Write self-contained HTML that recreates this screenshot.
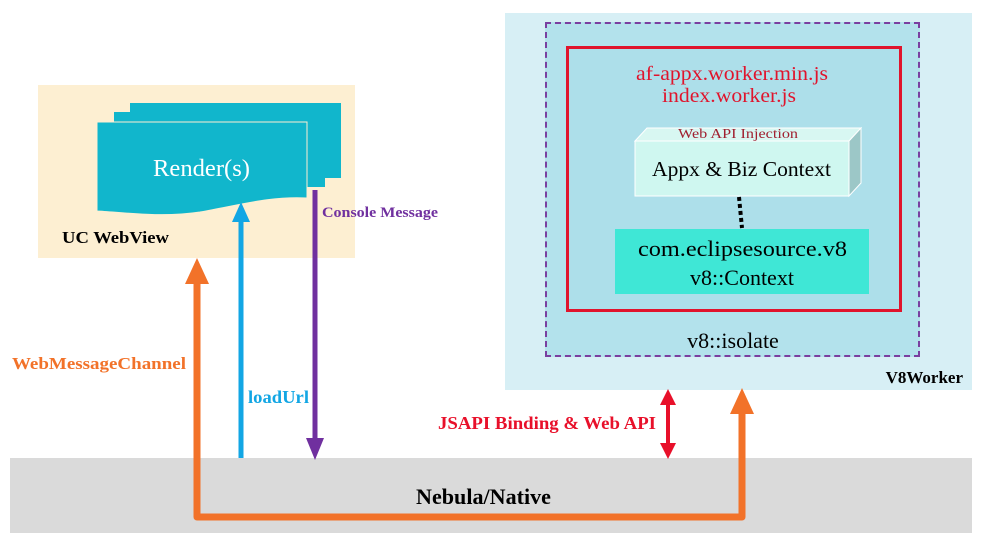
<!DOCTYPE html>
<html><head><meta charset="utf-8"><style>
body{margin:0;width:983px;height:552px;background:#fff;position:relative;overflow:hidden;font-family:"Liberation Serif",serif}
.a{position:absolute}
</style></head><body>
<div class="a" style="left:38px;top:85px;width:317px;height:173px;background:#fdefd2"></div>
<div class="a" style="left:505px;top:13px;width:467px;height:377px;background:#d7eff5"></div>
<div class="a" style="left:545px;top:22px;width:371px;height:331px;border:2px dashed #7a3fa0;background:#b3e2ec"></div>
<div class="a" style="left:566px;top:46px;width:330px;height:260px;border:3px solid #e0142c;background:#addfea"></div>
<div class="a" style="left:10px;top:458px;width:962px;height:75px;background:#dadada"></div>
<svg class="a" style="left:0;top:0" width="983" height="552" font-family="Liberation Serif">
 <rect x="130" y="103" width="211" height="75" fill="#11b6cc"/>
 <rect x="114" y="112" width="211" height="75" fill="#11b6cc"/>
 <path d="M97 122 H307 V198 C270 196 240 205 200 212 C160 218 120 212 97 211 Z" fill="#11b6cc" stroke="#fdefd2" stroke-width="1"/>
 <text x="153" y="176" font-size="24" fill="#fff" textLength="97" lengthAdjust="spacingAndGlyphs">Render(s)</text>
 <text x="62" y="243" font-size="17" font-weight="bold" textLength="107" lengthAdjust="spacingAndGlyphs">UC WebView</text>
 <polyline points="197,282 197,517 742,517 742,412" fill="none" stroke="#f27229" stroke-width="7" stroke-linejoin="round"/>
 <polygon points="197,258 185,284 209,284" fill="#f27229"/>
 <polygon points="742,388 730,414 754,414" fill="#f27229"/>
 <line x1="241" y1="458" x2="241" y2="220" stroke="#12a6e4" stroke-width="5"/>
 <polygon points="241,202 232,222 250,222" fill="#12a6e4"/>
 <line x1="315" y1="190" x2="315" y2="440" stroke="#70309f" stroke-width="5"/>
 <polygon points="315,460 306,438 324,438" fill="#70309f"/>
 <text x="322" y="217" font-size="15" font-weight="bold" fill="#70309f" textLength="116" lengthAdjust="spacingAndGlyphs">Console Message</text>
 <text x="248" y="403" font-size="18" font-weight="bold" fill="#12a6e4" textLength="61" lengthAdjust="spacingAndGlyphs">loadUrl</text>
 <text x="12" y="369" font-size="17" font-weight="bold" fill="#f27229" textLength="174" lengthAdjust="spacingAndGlyphs">WebMessageChannel</text>
 <line x1="668" y1="402" x2="668" y2="446" stroke="#e8102a" stroke-width="4"/>
 <polygon points="668,389 660,405 676,405" fill="#e8102a"/>
 <polygon points="668,459 660,443 676,443" fill="#e8102a"/>
 <text x="438" y="429" font-size="18" font-weight="bold" fill="#e8102a" textLength="218" lengthAdjust="spacingAndGlyphs">JSAPI Binding &amp; Web API</text>
 <text x="416" y="504" font-size="22" font-weight="bold" textLength="135" lengthAdjust="spacingAndGlyphs">Nebula/Native</text>
 <text x="963" y="383" font-size="17" font-weight="bold" text-anchor="end">V8Worker</text>
 <text x="733" y="348" font-size="22" text-anchor="middle">v8::isolate</text>
 <text x="636" y="80" font-size="20" fill="#e0142c" textLength="192" lengthAdjust="spacingAndGlyphs">af-appx.worker.min.js</text>
 <text x="662" y="102" font-size="20" fill="#e0142c" textLength="134" lengthAdjust="spacingAndGlyphs">index.worker.js</text>
 <polygon points="635,141 647,128 861,128 849,141" fill="#d8f7f2" stroke="#fff"/>
 <polygon points="849,141 861,128 861,183 849,196" fill="#9cc7c7" stroke="#fff"/>
 <rect x="635" y="141" width="214" height="55" fill="#cff7f0" stroke="#fff"/>
 <text x="678" y="138" font-size="14" fill="#a02030" textLength="120" lengthAdjust="spacingAndGlyphs">Web API Injection</text>
 <text x="652" y="176" font-size="21" textLength="179" lengthAdjust="spacingAndGlyphs">Appx &amp; Biz Context</text>
 <line x1="739" y1="197" x2="742" y2="228" stroke="#000" stroke-width="4" stroke-dasharray="4,3"/>
 <rect x="615" y="229" width="254" height="65" fill="#3fe7d6"/>
 <text x="638" y="256" font-size="22" textLength="209" lengthAdjust="spacingAndGlyphs">com.eclipsesource.v8</text>
 <text x="742" y="285" font-size="22" text-anchor="middle">v8::Context</text>
</svg>
</body></html>
